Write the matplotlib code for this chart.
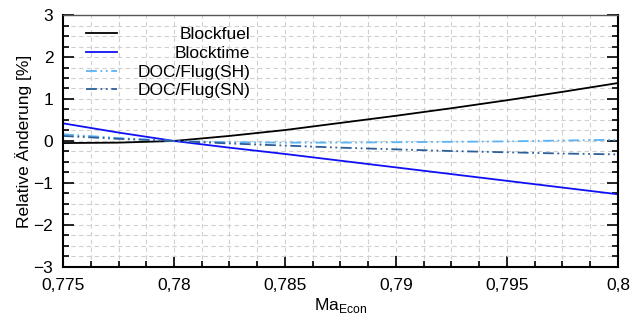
import numpy as np
import matplotlib.pyplot as plt
from matplotlib.ticker import MultipleLocator, FixedLocator

plt.rcParams['font.family'] = ['Liberation Sans', 'DejaVu Sans']

mach = [0.775, 0.7775, 0.78, 0.7825, 0.785, 0.7875, 0.79, 0.7925, 0.795, 0.7975, 0.8]
blockfuel = [-0.05, -0.04, 0.0, 0.12, 0.26, 0.43, 0.60, 0.78, 0.97, 1.17, 1.38]
blocktime = [0.42, 0.20, 0.0, -0.16, -0.31, -0.47, -0.63, -0.79, -0.95, -1.11, -1.27]
doc_sh = [0.16, 0.07, 0.0, -0.03, -0.04, -0.04, -0.03, -0.02, -0.01, 0.01, 0.03]
doc_sn = [0.12, 0.05, 0.0, -0.06, -0.11, -0.16, -0.20, -0.24, -0.27, -0.30, -0.32]

xticks = [0.775, 0.78, 0.785, 0.79, 0.795, 0.8]
xticklabels = ['0,775', '0,78', '0,785', '0,79', '0,795', '0,8']
yticks = [-3, -2, -1, 0, 1, 2, 3]
yticklabels = ['\u22123', '\u22122', '\u22121', '0', '1', '2', '3']

fig, ax = plt.subplots()
fig.set_size_inches(6.43, 3.2)
fig.subplots_adjust(left=0.098, right=0.961, bottom=0.166, top=0.953)

dashdotdot = (0, (6, 2, 1, 2, 1, 2))
ax.plot(mach, blockfuel, color='black', lw=1.3, label='Blockfuel')
ax.plot(mach, blocktime, color='#1010f5', lw=1.3, label='Blocktime')
ax.plot(mach, doc_sh, color='#5ab4f5', lw=1.3, ls=dashdotdot, label='DOC/Flug(SH)')
ax.plot(mach, doc_sn, color='#2c5f9a', lw=1.3, ls=dashdotdot, label='DOC/Flug(SN)')

ax.set_xlim(0.775, 0.8)
ax.set_ylim(-3, 3)
ax.xaxis.set_major_locator(FixedLocator(xticks))
ax.set_xticklabels(xticklabels)
ax.xaxis.set_minor_locator(MultipleLocator(0.00125))
ax.yaxis.set_major_locator(FixedLocator(yticks))
ax.set_yticklabels(yticklabels)
ax.yaxis.set_minor_locator(MultipleLocator(0.25))

ax.grid(True, which='both', color='#d0d0d0', ls=(0, (4, 3)), lw=0.8)
ax.set_axisbelow(True)
ax.tick_params(which='both', direction='in', top=False, right=True, labelsize=12.5, width=1.2)
ax.tick_params(which='major', length=8)
ax.tick_params(which='minor', length=4)
ax.tick_params(axis='x', pad=8)
ax.tick_params(axis='y', pad=7)

for s in ['left', 'bottom', 'right']:
    ax.spines[s].set_linewidth(1.5)
ax.spines['top'].set_color('#555555')
ax.spines['top'].set_linewidth(1.0)

ax.set_xlabel(r'Ma$_\mathregular{Econ}$', fontsize=12.5, labelpad=2)
ax.set_ylabel('Relative \u00c4nderung [%]', fontsize=12.5, labelpad=1)

leg = ax.legend(loc='upper left', frameon=False, fontsize=12.5, handlelength=1.75,
                labelspacing=0.2, borderaxespad=0.3, handletextpad=1.2,
                bbox_to_anchor=(0.02, 1.0))

# right-align legend labels by widening the gap between handle and text
renderer = fig.canvas.get_renderer()
texts = leg.get_texts()
widths = [t.get_window_extent(renderer).width for t in texts]
maxw = max(widths)
px_per_pt = fig.dpi / 72.0
rows = []
for col in leg._legend_handle_box.get_children():
    rows.extend(col.get_children())
for row, w in zip(rows, widths):
    row.sep = row.sep + (maxw - w) / px_per_pt

fig.savefig('out.png', dpi=100)
